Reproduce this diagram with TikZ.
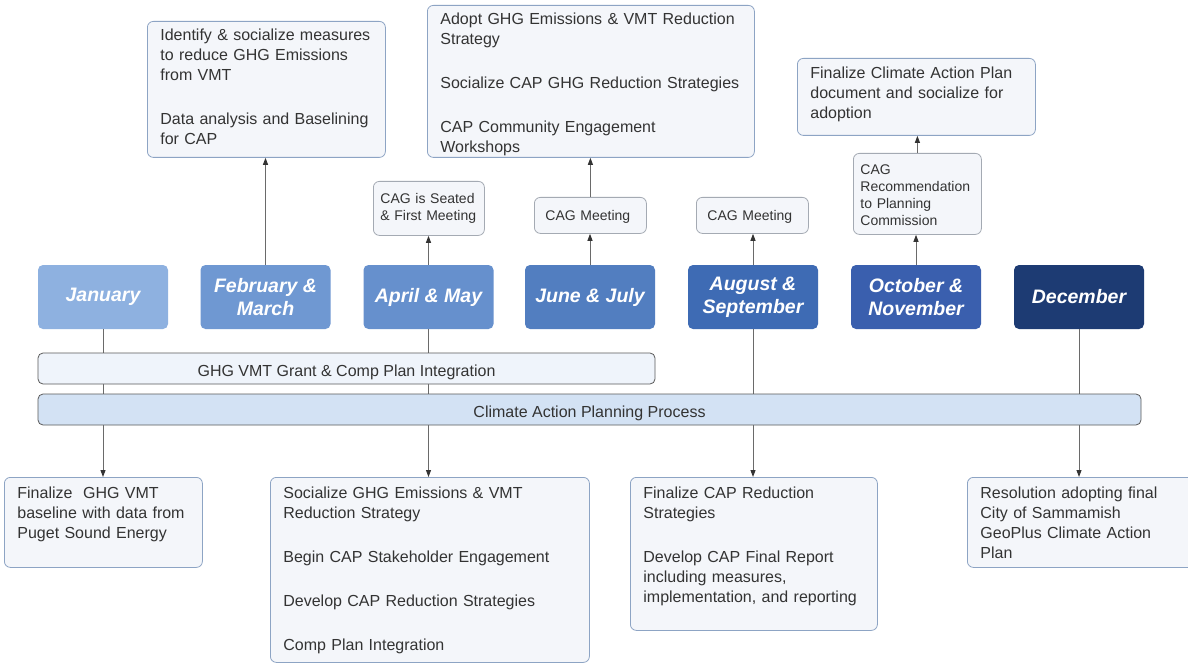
\documentclass[tikz,border=0pt]{standalone}
\usepackage{fontspec}
\setmainfont{Liberation Sans}
\usetikzlibrary{arrows.meta, calc}
\definecolor{janblue}{HTML}{8EB1E0}
\definecolor{febblue}{HTML}{6F98D2}
\definecolor{aprblue}{HTML}{6690CD}
\definecolor{junblue}{HTML}{527EC0}
\definecolor{augblue}{HTML}{3E6BB4}
\definecolor{octblue}{HTML}{3A5FAE}
\definecolor{decblue}{HTML}{1D3B73}
\definecolor{notebg}{HTML}{F4F6FA}
\definecolor{notebd}{HTML}{8DA4C4}
\definecolor{cagbd}{HTML}{A4AAB3}
\definecolor{grantfill}{HTML}{EFF4FB}
\definecolor{capfill}{HTML}{D3E2F4}
\definecolor{bardk}{HTML}{5A5A5A}
\definecolor{txtgray}{HTML}{333333}
\definecolor{linegray}{HTML}{6A6A6A}
\hyphenpenalty=10000
\exhyphenpenalty=10000

\begin{document}
\begin{tikzpicture}[
  x=1pt, y=-1pt,
  month/.style={
    fill=#1, rounded corners=5pt, minimum width=130pt, minimum height=64pt,
    text=white, font=\fontsize{19.5}{23}\selectfont\bfseries\itshape,
    align=center, inner sep=2pt
  },
  note/.style={
    draw=notebd, fill=notebg, line width=0.8pt, rounded corners=6pt,
    anchor=north west, align=left, inner xsep=13pt, inner ysep=0pt,
    text=txtgray, font=\fontsize{16}{20}\selectfont
  },
  cag/.style={
    note, draw=cagbd, inner xsep=7pt, font=\fontsize{14}{17}\selectfont
  },
  bar/.style={
    draw=bardk, fill=#1, line width=0.8pt, rounded corners=5pt,
    minimum height=31pt, inner sep=0pt, text=txtgray,
    text height=16pt, text depth=0pt,
    font=\fontsize{16}{20}\selectfont
  },
  arr/.style={-{Triangle[length=7pt, width=5pt, color=txtgray]},
    line width=0.9pt, linegray},
]

% Frame
\useasboundingbox (0,0) rectangle (1188,663);
\clip (0,0) rectangle (1188,663);
\fill[white] (0,0) rectangle (1188,663);

% ===== Months =====
\node[month=janblue] (jan) at (103,297) {January};
\node[month=febblue] (febmar) at (265.5,297) {February \&\\March};
\node[month=aprblue] (aprmay) at (428.5,297) {April \& May};
\node[month=junblue] (junjul) at (590,297) {June \& July};
\node[month=augblue] (augsep) at (753,297) {August \&\\September};
\node[month=octblue] (octnov) at (916,297) {October \&\\November};
\node[month=decblue] (dec) at (1079,297) {December};

% ===== Upper notes =====
\node[note, text width=212pt, text height=19pt, text depth=117pt] (identify) at (147,21)
  {Identify \& socialize measures\\to reduce GHG Emissions\\from VMT\\[24pt]
   Data analysis and Baselining\\for CAP};
\node[note, text width=301pt, text height=19pt, text depth=133pt] (adopt) at (427,5)
  {Adopt GHG Emissions \& VMT Reduction\\Strategy\\[24pt]
   Socialize CAP GHG Reduction Strategies\\[24pt]
   CAP Community Engagement\\Workshops};
\node[note, text width=212pt, text height=20pt, text depth=57pt] (finalize) at (797,58)
  {Finalize Climate Action Plan\\document and socialize for\\adoption};

% CAG meetings
\node[cag, text width=97pt, text height=22pt, text depth=32pt] (seated) at (373,181)
  {CAG is Seated\\\& First Meeting};
\node[cag, inner xsep=11pt, text width=90pt, text height=23pt, text depth=13pt] (meetjun) at (534,197)
  {CAG Meeting};
\node[cag, inner xsep=11pt, text width=90pt, text height=23pt, text depth=13pt] (meetaug) at (696,197)
  {CAG Meeting};
\node[cag, text width=114pt, text height=21pt, text depth=60pt] (recommend) at (853,153)
  {CAG\\Recommendation\\to Planning\\Commission};

% ===== Lower notes =====
\node[note, text width=172pt, text height=21pt, text depth=69pt] (baseline) at (4,477)
  {Finalize\ \ GHG VMT\\baseline with data from\\Puget Sound Energy};
\node[note, text width=293pt, text height=21pt, text depth=164pt] (socialize) at (270,477)
  {Socialize GHG Emissions \& VMT\\Reduction Strategy\\[24pt]
   Begin CAP Stakeholder Engagement\\[24pt]
   Develop CAP Reduction Strategies\\[24pt]
   Comp Plan Integration};
\node[note, text width=221pt, text height=21pt, text depth=132pt] (strategies) at (630,477)
  {Finalize CAP Reduction\\Strategies\\[24pt]
   Develop CAP Final Report\\including measures,\\implementation, and reporting};
\node[note, text width=212pt, text height=21pt, text depth=69pt] (resolution) at (967,477)
  {Resolution adopting final\\City of Sammamish\\GeoPlus Climate Action\\Plan};

% ===== Connectors =====
\draw[arr] (febmar.north) -- (febmar.north |- identify.south);
\draw[arr] (aprmay.north) -- (aprmay.north |- seated.south);
\draw[arr] (junjul.north) -- (junjul.north |- meetjun.south);
\draw[arr] (meetjun.north) -- (meetjun.north |- adopt.south);
\draw[arr] (augsep.north) -- (augsep.north |- meetaug.south);
\draw[arr] (octnov.north) -- (octnov.north |- recommend.south);
\draw[arr] (recommend.north) -- (recommend.north |- finalize.south);

\draw[arr] (jan.south) -- (jan.south |- baseline.north);
\draw[arr] (aprmay.south) -- (aprmay.south |- socialize.north);
\draw[arr] (augsep.south) -- (augsep.south |- strategies.north);
\draw[arr] (dec.south) -- (dec.south |- resolution.north);

% ===== Process bars =====
\node[bar=grantfill, minimum width=617pt] (grant) at (346.5,368.5)
  {GHG VMT Grant \& Comp Plan Integration};
\node[bar=capfill, minimum width=1103pt] (process) at (589.5,409.5)
  {Climate Action Planning Process};

\end{tikzpicture}
\end{document}
